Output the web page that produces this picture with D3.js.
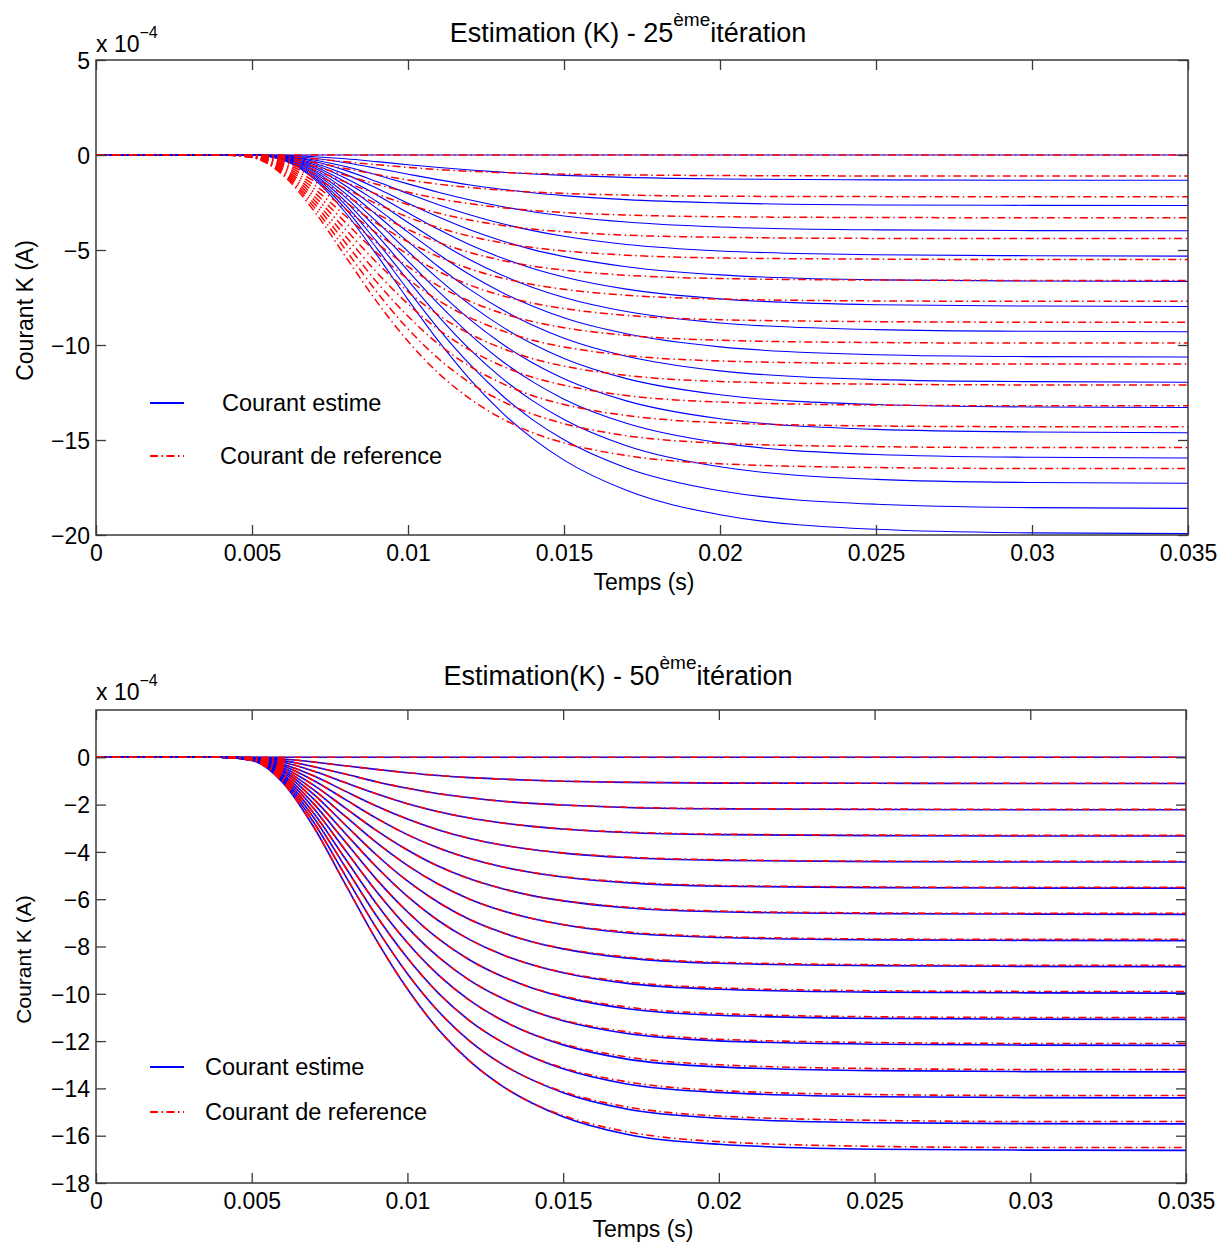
<!DOCTYPE html>
<html>
<head>
<meta charset="utf-8">
<script src="https://cdn.jsdelivr.net/npm/d3@7"></script>
<style>
  html, body { margin: 0; padding: 0; background: #ffffff; }
  svg { display: block; }
  text { font-family: "Liberation Sans", Arial, Helvetica, sans-serif; fill: #000; }
</style>
</head>
<body>
<svg id="chart" width="1224" height="1243"></svg>
<script>
// ---------------- DATA (current in units of 1e-4 A) ----------------
const timeSamples = [0, 0.004, 0.005, 0.006, 0.007, 0.008, 0.009, 0.010, 0.011, 0.012, 0.013, 0.014, 0.015, 0.017, 0.020, 0.025, 0.030, 0.035];

// Reference current ("Courant de reference"), same in both figures
const referenceCurves = [
  [0,0,0,0,0,0,0,0,0,0,0,0,0,0,0,0,0,0],
  [0,0,-0.01,-0.07,-0.20,-0.36,-0.51,-0.65,-0.77,-0.86,-0.92,-0.97,-1.01,-1.05,-1.08,-1.10,-1.10,-1.10],
  [0,0,-0.02,-0.14,-0.40,-0.71,-1.03,-1.31,-1.54,-1.71,-1.85,-1.95,-2.02,-2.11,-2.17,-2.19,-2.20,-2.20],
  [0,0,-0.03,-0.21,-0.59,-1.07,-1.54,-1.96,-2.30,-2.57,-2.77,-2.92,-3.03,-3.16,-3.25,-3.29,-3.30,-3.30],
  [0,0,-0.04,-0.29,-0.79,-1.43,-2.06,-2.61,-3.07,-3.43,-3.70,-3.90,-4.04,-4.22,-4.33,-4.39,-4.40,-4.40],
  [0,0,-0.04,-0.36,-0.99,-1.78,-2.57,-3.27,-3.84,-4.28,-4.62,-4.87,-5.05,-5.27,-5.42,-5.48,-5.50,-5.50],
  [0,0,-0.05,-0.43,-1.19,-2.14,-3.09,-3.92,-4.61,-5.14,-5.54,-5.85,-6.06,-6.33,-6.50,-6.58,-6.60,-6.60],
  [0,0,-0.06,-0.50,-1.39,-2.49,-3.60,-4.57,-5.37,-6.00,-6.47,-6.82,-7.07,-7.38,-7.58,-7.68,-7.70,-7.70],
  [0,0,-0.07,-0.57,-1.58,-2.85,-4.12,-5.23,-6.14,-6.86,-7.39,-7.80,-8.08,-8.44,-8.67,-8.77,-8.80,-8.80],
  [0,0,-0.08,-0.64,-1.78,-3.21,-4.63,-5.88,-6.91,-7.71,-8.32,-8.77,-9.09,-9.49,-9.75,-9.87,-9.90,-9.90],
  [0,0,-0.09,-0.72,-1.98,-3.56,-5.15,-6.53,-7.68,-8.57,-9.24,-9.75,-10.10,-10.55,-10.84,-10.97,-11.00,-11.00],
  [0,0,-0.10,-0.79,-2.18,-3.92,-5.66,-7.19,-8.45,-9.43,-10.16,-10.72,-11.11,-11.60,-11.92,-12.06,-12.10,-12.10],
  [0,0,-0.11,-0.86,-2.38,-4.28,-6.18,-7.84,-9.21,-10.28,-11.09,-11.70,-12.12,-12.66,-13.00,-13.16,-13.20,-13.20],
  [0,0,-0.11,-0.93,-2.57,-4.63,-6.69,-8.49,-9.98,-11.14,-12.01,-12.67,-13.13,-13.71,-14.09,-14.26,-14.30,-14.30],
  [0,0,-0.12,-1.00,-2.77,-4.99,-7.21,-9.15,-10.75,-12.00,-12.94,-13.64,-14.14,-14.77,-15.17,-15.35,-15.40,-15.40],
  [0,0,-0.13,-1.07,-2.97,-5.35,-7.72,-9.80,-11.52,-12.85,-13.86,-14.62,-15.15,-15.82,-16.25,-16.45,-16.50,-16.50]
];

// Estimated current at the 25th iteration
const estimated25 = [
  [0,0,0,0,0,0,0,0,0,0,0,0,0,0,0,0,0,0],
  [0,0,0,-0.02,-0.09,-0.20,-0.35,-0.51,-0.66,-0.79,-0.90,-1.00,-1.07,-1.18,-1.26,-1.31,-1.33,-1.33],
  [0,0,0,-0.04,-0.17,-0.41,-0.70,-1.01,-1.31,-1.58,-1.80,-1.99,-2.14,-2.35,-2.52,-2.63,-2.65,-2.66],
  [0,0,0,-0.06,-0.26,-0.61,-1.05,-1.52,-1.97,-2.37,-2.71,-2.99,-3.21,-3.53,-3.79,-3.94,-3.98,-3.99],
  [0,0,0,-0.07,-0.34,-0.81,-1.40,-2.03,-2.63,-3.16,-3.61,-3.98,-4.28,-4.71,-5.05,-5.25,-5.30,-5.32],
  [0,0,0,-0.09,-0.43,-1.02,-1.75,-2.54,-3.28,-3.95,-4.51,-4.98,-5.35,-5.88,-6.31,-6.57,-6.63,-6.65],
  [0,0,0,-0.11,-0.51,-1.22,-2.10,-3.04,-3.94,-4.74,-5.41,-5.97,-6.42,-7.06,-7.57,-7.88,-7.95,-7.97],
  [0,0,0,-0.13,-0.60,-1.42,-2.45,-3.55,-4.59,-5.53,-6.32,-6.97,-7.50,-8.24,-8.84,-9.19,-9.28,-9.30],
  [0,0,0,-0.15,-0.68,-1.62,-2.81,-4.06,-5.25,-6.32,-7.22,-7.96,-8.57,-9.41,-10.10,-10.51,-10.61,-10.63],
  [0,0,0,-0.17,-0.77,-1.83,-3.16,-4.56,-5.91,-7.10,-8.12,-8.96,-9.64,-10.59,-11.36,-11.82,-11.93,-11.96],
  [0,0,0,-0.18,-0.85,-2.03,-3.51,-5.07,-6.56,-7.89,-9.02,-9.95,-10.71,-11.77,-12.62,-13.13,-13.26,-13.29],
  [0,0,0,-0.20,-0.94,-2.23,-3.86,-5.58,-7.22,-8.68,-9.92,-10.95,-11.78,-12.94,-13.88,-14.44,-14.58,-14.62],
  [0,0,0,-0.22,-1.03,-2.44,-4.21,-6.09,-7.88,-9.47,-10.83,-11.94,-12.85,-14.12,-15.15,-15.76,-15.91,-15.95],
  [0,0,0,-0.24,-1.11,-2.64,-4.56,-6.59,-8.53,-10.26,-11.73,-12.94,-13.92,-15.30,-16.41,-17.07,-17.24,-17.28],
  [0,0,0,-0.26,-1.20,-2.84,-4.91,-7.10,-9.19,-11.05,-12.63,-13.94,-14.99,-16.47,-17.67,-18.38,-18.56,-18.60],
  [0,0,0,-0.28,-1.28,-3.04,-5.26,-7.61,-9.84,-11.84,-13.53,-14.93,-16.06,-17.65,-18.93,-19.70,-19.89,-19.93]
];

// Estimated current at the 50th iteration
const estimated50 = [
  [0,0,0,0,0,0,0,0,0,0,0,0,0,0,0,0,0,0],
  [0,0,-0.01,-0.07,-0.20,-0.36,-0.51,-0.65,-0.77,-0.86,-0.92,-0.97,-1.01,-1.06,-1.09,-1.10,-1.11,-1.11],
  [0,0,-0.02,-0.14,-0.40,-0.71,-1.03,-1.31,-1.54,-1.71,-1.85,-1.95,-2.02,-2.12,-2.18,-2.21,-2.22,-2.22],
  [0,0,-0.03,-0.21,-0.59,-1.07,-1.54,-1.96,-2.30,-2.57,-2.77,-2.92,-3.03,-3.18,-3.27,-3.31,-3.33,-3.33],
  [0,0,-0.04,-0.29,-0.79,-1.43,-2.06,-2.61,-3.07,-3.43,-3.70,-3.90,-4.05,-4.24,-4.36,-4.41,-4.43,-4.43],
  [0,0,-0.04,-0.36,-0.99,-1.78,-2.57,-3.27,-3.84,-4.28,-4.62,-4.87,-5.06,-5.30,-5.45,-5.51,-5.53,-5.53],
  [0,0,-0.05,-0.43,-1.19,-2.14,-3.09,-3.92,-4.61,-5.14,-5.54,-5.85,-6.07,-6.36,-6.53,-6.61,-6.63,-6.64],
  [0,0,-0.06,-0.50,-1.39,-2.49,-3.60,-4.57,-5.37,-6.00,-6.47,-6.82,-7.08,-7.42,-7.62,-7.72,-7.74,-7.75],
  [0,0,-0.07,-0.57,-1.58,-2.85,-4.12,-5.23,-6.14,-6.86,-7.39,-7.80,-8.10,-8.48,-8.71,-8.81,-8.84,-8.85],
  [0,0,-0.08,-0.64,-1.78,-3.21,-4.63,-5.88,-6.91,-7.71,-8.32,-8.77,-9.11,-9.55,-9.81,-9.93,-9.96,-9.97],
  [0,0,-0.09,-0.72,-1.98,-3.56,-5.15,-6.53,-7.68,-8.57,-9.24,-9.75,-10.13,-10.62,-10.91,-11.04,-11.07,-11.08],
  [0,0,-0.10,-0.79,-2.18,-3.92,-5.66,-7.19,-8.45,-9.43,-10.16,-10.72,-11.14,-11.67,-11.99,-12.13,-12.17,-12.18],
  [0,0,-0.11,-0.86,-2.38,-4.28,-6.18,-7.84,-9.21,-10.28,-11.09,-11.70,-12.16,-12.75,-13.09,-13.25,-13.29,-13.30],
  [0,0,-0.11,-0.93,-2.57,-4.63,-6.69,-8.49,-9.98,-11.14,-12.01,-12.67,-13.17,-13.80,-14.17,-14.35,-14.39,-14.40],
  [0,0,-0.12,-1.00,-2.77,-4.99,-7.21,-9.15,-10.75,-12.00,-12.94,-13.64,-14.18,-14.86,-15.26,-15.45,-15.49,-15.50],
  [0,0,-0.13,-1.07,-2.97,-5.35,-7.72,-9.80,-11.52,-12.85,-13.86,-14.62,-15.20,-15.93,-16.36,-16.57,-16.61,-16.62]
];

const xTicks = [0, 0.005, 0.01, 0.015, 0.02, 0.025, 0.03, 0.035];
const xTickLabels = ["0", "0.005", "0.01", "0.015", "0.02", "0.025", "0.03", "0.035"];
const yTicksTop = [5, 0, -5, -10, -15, -20];
const yTicksBottom = [0, -2, -4, -6, -8, -10, -12, -14, -16, -18];
const yDomainTop = [-20, 5];
const yDomainBottom = [-18, 2];
const xDomain = [0, 0.035];
const legendLabels = ["Courant estime", "Courant de reference"];
const titlesMain = ["Estimation (K) - 25", "Estimation(K) - 50"];
const titleSup = "ème";
const titleEnd = "itération";
const xLabel = "Temps (s)";
const yLabel = "Courant K (A)";

// ---------------- DRAWING ----------------
const svg = d3.select("#chart");
const BLUE = "#0000ff", RED = "#ff0000", AXIS = "#3a3a3a";

const panels = [
  { est: estimated25, ref: referenceCurves, yDomain: yDomainTop, yTicks: yTicksTop,
    left: 96, right: 1188, top: 60, bottom: 535, title: titlesMain[0], titleX: 628, titleY: 42,
    expY: 52, legendY: [403, 456], legendTextX: [222, 220], xLabelY: 590, yLabelX: 33, yLabelSize: 23,
    yLabelShift: 13, blueW: 1.1, redW: 1.5 },
  { est: estimated50, ref: referenceCurves, yDomain: yDomainBottom, yTicks: yTicksBottom,
    left: 96, right: 1186, top: 710, bottom: 1183, title: titlesMain[1], titleX: 618, titleY: 685,
    expY: 700, legendY: [1067, 1112], legendTextX: [205, 205], xLabelY: 1237, yLabelX: 31, yLabelSize: 21,
    yLabelShift: 13, blueW: 1.6, redW: 1.6 }
];

panels.forEach((p, pi) => {
  const x = d3.scaleLinear().domain(xDomain).range([p.left, p.right]);
  const y = d3.scaleLinear().domain(p.yDomain).range([p.bottom, p.top]);
  const g = svg.append("g");

  const clipId = "clip" + pi;
  svg.append("defs").append("clipPath").attr("id", clipId)
    .append("rect").attr("x", p.left).attr("y", p.top)
    .attr("width", p.right - p.left).attr("height", p.bottom - p.top);

  const line = d3.line()
    .x((d, i) => x(timeSamples[i]))
    .y(d => y(d))
    .curve(d3.curveMonotoneX);

  const curves = g.append("g").attr("clip-path", `url(#${clipId})`);
  // estimated (blue solid) first, reference (red dash-dot) on top
  curves.selectAll("path.est").data(p.est).join("path")
    .attr("class", "est")
    .attr("d", line)
    .attr("fill", "none")
    .attr("stroke", BLUE)
    .attr("stroke-width", p.blueW);
  curves.selectAll("path.ref").data(p.ref).join("path")
    .attr("class", "ref")
    .attr("d", line)
    .attr("fill", "none")
    .attr("stroke", RED)
    .attr("stroke-width", p.redW)
    .attr("stroke-dasharray", "8,3.5,1.5,3.5");

  // axes (MATLAB style, inward ticks on all sides)
  const fontSize = 23;
  const xb = g.append("g").attr("transform", `translate(0,${p.bottom})`)
    .call(d3.axisBottom(x).tickValues(xTicks).tickFormat((d, i) => xTickLabels[i])
      .tickSizeInner(-10).tickSizeOuter(0).tickPadding(10));
  const xt = g.append("g").attr("transform", `translate(0,${p.top})`)
    .call(d3.axisTop(x).tickValues(xTicks).tickFormat("")
      .tickSizeInner(-10).tickSizeOuter(0));
  const yl = g.append("g").attr("transform", `translate(${p.left},0)`)
    .call(d3.axisLeft(y).tickValues(p.yTicks).tickSizeInner(-10).tickSizeOuter(0).tickPadding(6));
  const yr = g.append("g").attr("transform", `translate(${p.right},0)`)
    .call(d3.axisRight(y).tickValues(p.yTicks).tickFormat("").tickSizeInner(-10).tickSizeOuter(0));

  [xb, xt, yl, yr].forEach(a => {
    a.select(".domain").remove();
    a.selectAll(".tick line").attr("stroke", AXIS).attr("stroke-width", 1.3);
    a.selectAll(".tick text").attr("font-size", fontSize)
      .attr("font-family", '"Liberation Sans", Arial, sans-serif').attr("fill", "#000");
  });
  yl.selectAll(".tick text").attr("dy", "0.36em");

  g.append("rect")
    .attr("x", p.left).attr("y", p.top)
    .attr("width", p.right - p.left).attr("height", p.bottom - p.top)
    .attr("fill", "none").attr("stroke", AXIS).attr("stroke-width", 1.5);

  // exponent label
  const ex = g.append("text").attr("x", p.left).attr("y", p.expY).attr("font-size", 23);
  ex.append("tspan").text("x 10");
  ex.append("tspan").attr("font-size", 16).attr("dy", -14).text("−4");

  // title
  const t = g.append("text").attr("x", p.titleX).attr("y", p.titleY)
    .attr("text-anchor", "middle").attr("font-size", 27);
  t.append("tspan").text(p.title);
  t.append("tspan").attr("font-size", 19).attr("dy", -16).text(titleSup);
  t.append("tspan").attr("dy", 16).text(titleEnd);

  // axis labels
  g.append("text").attr("x", (p.left + p.right) / 2 + 2).attr("y", p.xLabelY)
    .attr("text-anchor", "middle").attr("font-size", 23).text(xLabel);
  g.append("text")
    .attr("transform", `translate(${p.yLabelX},${(p.top + p.bottom) / 2 + p.yLabelShift}) rotate(-90)`)
    .attr("text-anchor", "middle").attr("font-size", p.yLabelSize).text(yLabel);

  // legend (no box)
  const legend = g.append("g");
  const styles = [
    { stroke: BLUE, dash: null, w: 1.8 },
    { stroke: RED, dash: "8,3.5,1.5,3.5", w: 1.8 }
  ];
  legendLabels.forEach((lab, i) => {
    legend.append("line")
      .attr("x1", 150).attr("x2", 184)
      .attr("y1", p.legendY[i]).attr("y2", p.legendY[i])
      .attr("stroke", styles[i].stroke).attr("stroke-width", styles[i].w)
      .attr("stroke-dasharray", styles[i].dash);
    legend.append("text")
      .attr("x", p.legendTextX[i]).attr("y", p.legendY[i])
      .attr("dy", "0.35em").attr("font-size", 23.5).text(lab);
  });
});
</script>
</body>
</html>
